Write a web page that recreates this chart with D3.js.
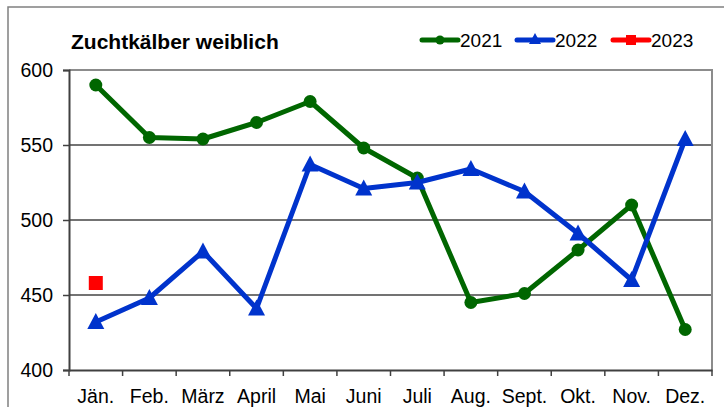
<!DOCTYPE html>
<html><head><meta charset="utf-8">
<script src="https://cdn.jsdelivr.net/npm/d3@7"></script>
<style>body{margin:0;background:#fff}svg{display:block}</style>
</head><body>
<svg id="c" width="724" height="407"></svg>
<script>
const months = ["Jän.","Feb.","März","April","Mai","Juni","Juli","Aug.","Sept.","Okt.","Nov.","Dez."];
const v2021 = [590,555,554,565,579,548,528,445,451,480,510,427];
const v2022 = [432,448,479,441,537,521,525,534,519,491,460,554];
const v2023 = [458,null,null,null,null,null,null,null,null,null,null,null];
const yTicks = [400,450,500,550,600];
const title = "Zuchtkälber weiblich";

const svg = d3.select("#c");
const font = "Arial, 'Liberation Sans', sans-serif";
const L=69, R=712, T=70, B=370;
svg.append("rect").attr("x",8).attr("y",7).attr("width",730).attr("height",420)
  .attr("fill","none").attr("stroke","#808080").attr("stroke-width",1.5);

const x = d3.scaleBand().domain(months).range([L,R]);
const y = d3.scaleLinear().domain([400,600]).range([B,T]);

// gridlines
svg.append("g").selectAll("line").data(yTicks.filter(t=>t>400&&t<600)).join("line")
  .attr("x1",L).attr("x2",R).attr("y1",d=>y(d)).attr("y2",d=>y(d))
  .attr("stroke","#444").attr("stroke-width",1.5);
// plot border top/right
svg.append("path").attr("d",`M${L},${T}H${R}V${B}`).attr("fill","none").attr("stroke","#8c8c8c").attr("stroke-width",2);

// axes
const ya = svg.append("g").attr("transform",`translate(${L},0)`)
  .call(d3.axisLeft(y).tickValues(yTicks).tickSize(6).tickPadding(10));
const xa = svg.append("g").attr("transform",`translate(0,${B})`)
  .call(d3.axisBottom(x).tickSize(0).tickPadding(19));
[ya,xa].forEach(a=>{a.select(".domain").attr("stroke","#404040").attr("stroke-width",2);
  a.selectAll("text").attr("font-family",font).attr("font-size",19.5).attr("fill","#000");
  a.selectAll(".tick line").attr("stroke","#404040").attr("stroke-width",1.5);});
// x category boundary ticks
svg.append("g").selectAll("line").data(months.map(m=>x(m)).concat([R])).join("line")
  .attr("x1",d=>d).attr("x2",d=>d).attr("y1",B).attr("y2",B+6)
  .attr("stroke","#404040").attr("stroke-width",1.5);

const cx = m => x(m)+x.bandwidth()/2;
const line = d3.line().defined(d=>d.v!=null).x(d=>cx(d.m)).y(d=>y(d.v));
const green="#006600", blue="#0033cc", red="#ff0000";
function series(vals,color,marker){
  const data = months.map((m,i)=>({m,v:vals[i]}));
  svg.append("path").datum(data).attr("d",line).attr("fill","none").attr("stroke",color).attr("stroke-width",5).attr("stroke-linejoin","round");
  const pts = data.filter(d=>d.v!=null);
  const g = svg.append("g");
  if(marker==="circle") g.selectAll("circle").data(pts).join("circle").attr("cx",d=>cx(d.m)).attr("cy",d=>y(d.v)).attr("r",6.5).attr("fill",color);
  if(marker==="tri") g.selectAll("path").data(pts).join("path").attr("d",d=>{const X=cx(d.m),Y=y(d.v);return `M${X},${Y-9}L${X+8.5},${Y+7}L${X-8.5},${Y+7}Z`;}).attr("fill",color);
  if(marker==="sq") g.selectAll("rect").data(pts).join("rect").attr("x",d=>cx(d.m)-7).attr("y",d=>y(d.v)-7).attr("width",14).attr("height",14).attr("fill",color);
}
series(v2021,green,"circle");
series(v2022,blue,"tri");
series(v2023,red,"sq");

svg.append("text").attr("x",71).attr("y",48.5).attr("font-family",font).attr("font-weight","bold").attr("font-size",21).text(title);

// legend
const leg = [{n:"2021",c:green,m:"circle",x:422},{n:"2022",c:blue,m:"tri",x:517},{n:"2023",c:red,m:"sq",x:613}];
const ly=40;
leg.forEach(d=>{
  const g=svg.append("g");
  g.append("line").attr("x1",d.x).attr("x2",d.x+36).attr("y1",ly).attr("y2",ly).attr("stroke",d.c).attr("stroke-width",5).attr("stroke-linecap","round");
  const mx=d.x+18;
  if(d.m==="circle") g.append("circle").attr("cx",mx).attr("cy",ly).attr("r",4.5).attr("fill",d.c);
  if(d.m==="tri") g.append("path").attr("d",`M${mx},${ly-7}L${mx+6},${ly+4}L${mx-6},${ly+4}Z`).attr("fill",d.c);
  if(d.m==="sq") g.append("rect").attr("x",mx-5).attr("y",ly-5).attr("width",10).attr("height",10).attr("fill",d.c);
  g.append("text").attr("x",d.x+38).attr("y",ly+6.5).attr("font-family",font).attr("font-size",19).text(d.n);
});
</script>
</body></html>
